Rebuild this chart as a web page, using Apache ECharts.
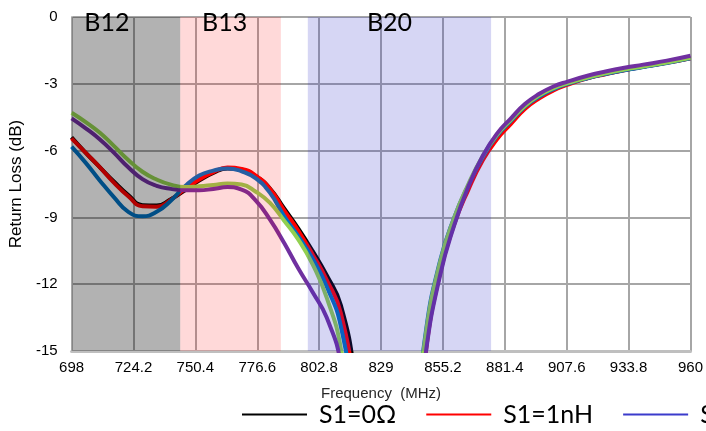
<!DOCTYPE html>
<html>
<head>
<meta charset="utf-8">
<script src="https://cdn.jsdelivr.net/npm/echarts@6/dist/echarts.min.js"></script>
<style>html,body{margin:0;padding:0;background:#fff;}#chart{width:706px;height:431px;}</style>
</head>
<body>
<div id="chart"></div>
<script>
// ---- data (frequency in MHz, return loss in dB) ----
const freq = [698,704,710,716,722,728,734,740,746,752,758,764,770,776,782,788,794,800,806,812,818,824,830,836,842,848,854,860,866,872,878,884,890,896,902,908,916,924,932,940,950,960];
const s0ohm = [-5.4,-6.1,-6.75,-7.4,-8.0,-8.45,-8.47,-8.18,-7.78,-7.35,-7.0,-6.8,-6.85,-7.15,-7.7,-8.6,-9.5,-10.5,-11.6,-12.95,-16.2,-22,-28,-28,-21,-14.8,-11.4,-9.2,-7.65,-6.35,-5.4,-4.7,-4.05,-3.58,-3.25,-3.0,-2.75,-2.55,-2.38,-2.23,-2.05,-1.84];
const s1nH = [-5.45,-6.1,-6.75,-7.45,-8.05,-8.5,-8.52,-8.2,-7.72,-7.3,-6.97,-6.76,-6.82,-7.12,-7.72,-8.68,-9.6,-10.65,-11.8,-13.3,-17,-23,-29,-28,-21.5,-15.0,-11.5,-9.3,-7.75,-6.45,-5.5,-4.8,-4.12,-3.65,-3.3,-3.04,-2.77,-2.57,-2.39,-2.24,-2.06,-1.85];
const s2nH = [-5.82,-6.55,-7.35,-8.1,-8.75,-8.95,-8.75,-8.25,-7.6,-7.12,-6.9,-6.8,-6.93,-7.25,-7.9,-8.95,-9.85,-10.85,-12.1,-13.9,-18,-24,-29,-27,-20,-14.1,-10.95,-9.0,-7.55,-6.3,-5.35,-4.67,-4.02,-3.57,-3.24,-3.0,-2.76,-2.56,-2.39,-2.25,-2.07,-1.86];
const s3nH = [-4.3,-4.72,-5.2,-5.8,-6.42,-6.95,-7.3,-7.53,-7.64,-7.6,-7.54,-7.48,-7.52,-7.85,-8.35,-9.15,-10.0,-11.1,-12.6,-14.9,-20,-26,-30,-27,-20,-14.2,-11.0,-9.0,-7.5,-6.25,-5.3,-4.62,-3.98,-3.52,-3.2,-2.97,-2.73,-2.53,-2.36,-2.22,-2.04,-1.83];
const s4nH = [-4.55,-5.0,-5.5,-6.1,-6.75,-7.28,-7.58,-7.72,-7.78,-7.78,-7.72,-7.64,-7.75,-8.25,-9.1,-10.15,-11.3,-12.35,-13.5,-15.6,-21,-27,-30,-28,-21,-15.05,-11.6,-9.35,-7.6,-6.25,-5.25,-4.55,-3.9,-3.45,-3.12,-2.9,-2.65,-2.45,-2.28,-2.14,-1.96,-1.74];
const seriesNames = ['S1=0\u03A9','S1=1nH','S1=2nH','S1=3nH','S1=4nH'];
const bandNames = ['B12','B13','B20'];
const bandStart = [698, 744, 798];
const bandEnd = [744, 786.6, 875.6];
const xMin = 698, xMax = 960, xStep = 26.2;
const yMin = -15, yMax = 0, yStep = 3;

// ---- styles ----
const lineColors = ['#000000','#FF0000','#0070C0','#92D050','#7030A0'];
const legendColors = ['#000000','#FF0000','#3B3BCB','#92D050','#7030A0'];
const bandColors = ['rgba(0,0,0,0.3)','rgba(255,0,0,0.15)','rgba(50,50,200,0.2)'];
const bandLabelOffset = [[-19,-12],[-6,-12],[-10,-12]];

const allValues = [s0ohm, s1nH, s2nH, s3nH, s4nH];
const series = allValues.map((vals, i) => ({
  name: seriesNames[i],
  type: 'line',
  smooth: 0.5,
  symbol: 'none',
  clip: true,
  z: 2,
  lineStyle: { color: lineColors[i], width: 4 },
  itemStyle: { color: legendColors[i] },
  data: freq.map((f, k) => [f - xMin, vals[k]])
}));
series.push({
  name: 'bands',
  type: 'line',
  data: [],
  z: 10,
  silent: true,
  markArea: {
    silent: true,
    z: 10,
    data: bandNames.map((b, i) => [
      { name: b, xAxis: bandStart[i] - xMin, yAxis: yMax,
        itemStyle: { color: bandColors[i] },
        label: { show: true, position: 'insideTop', offset: bandLabelOffset[i],
                 color: '#000', fontSize: 25, fontFamily: 'Lato' } },
      { xAxis: bandEnd[i] - xMin, yAxis: yMin }
    ])
  }
});

const chart = echarts.init(document.getElementById('chart'), null, { renderer: 'canvas' });
chart.setOption({
  animation: false,
  backgroundColor: '#ffffff',
  grid: { left: 71, right: 14, top: 17, bottom: 80, containLabel: false },
  legend: {
    type: 'plain',
    left: 237, top: 397, width: 3000,
    icon: 'rect',
    itemWidth: 65, itemHeight: 2, itemGap: 30,
    textStyle: { fontFamily: 'Lato', fontSize: 25, color: '#000', padding: [0, 0, 0, 7] },
    data: seriesNames.map((n, i) => ({ name: n, itemStyle: { color: legendColors[i] } }))
  },
  xAxis: {
    type: 'value', min: 0, max: xMax - xMin, interval: xStep,
    name: 'Frequency  (MHz)', nameLocation: 'middle', nameGap: 35,
    nameTextStyle: { fontFamily: 'Liberation Sans', fontSize: 15, color: '#262626' },
    axisLine: { show: true, onZero: false, lineStyle: { color: '#BFBFBF', width: 3 } },
    axisTick: { show: false },
    axisLabel: { margin: 9, fontFamily: 'Liberation Sans', fontSize: 15, color: '#000',
      formatter: v => { const r = Math.round((v + xMin) * 10) / 10; return String(r); } },
    splitLine: { show: true, lineStyle: { color: '#A6A6A6', width: 2 } }
  },
  yAxis: {
    type: 'value', min: yMin, max: yMax, interval: yStep,
    name: 'Return Loss (dB)', nameLocation: 'middle', nameGap: 44,
    nameTextStyle: { fontFamily: 'Liberation Sans', fontSize: 17, color: '#000' },
    axisLine: { show: true, lineStyle: { color: '#BFBFBF', width: 2 } },
    axisTick: { show: false },
    axisLabel: { margin: 14, fontFamily: 'Liberation Sans', fontSize: 15, color: '#000' },
    splitLine: { show: true, lineStyle: { color: '#A6A6A6', width: 2 } }
  },
  series: series
});
</script>
</body>
</html>
